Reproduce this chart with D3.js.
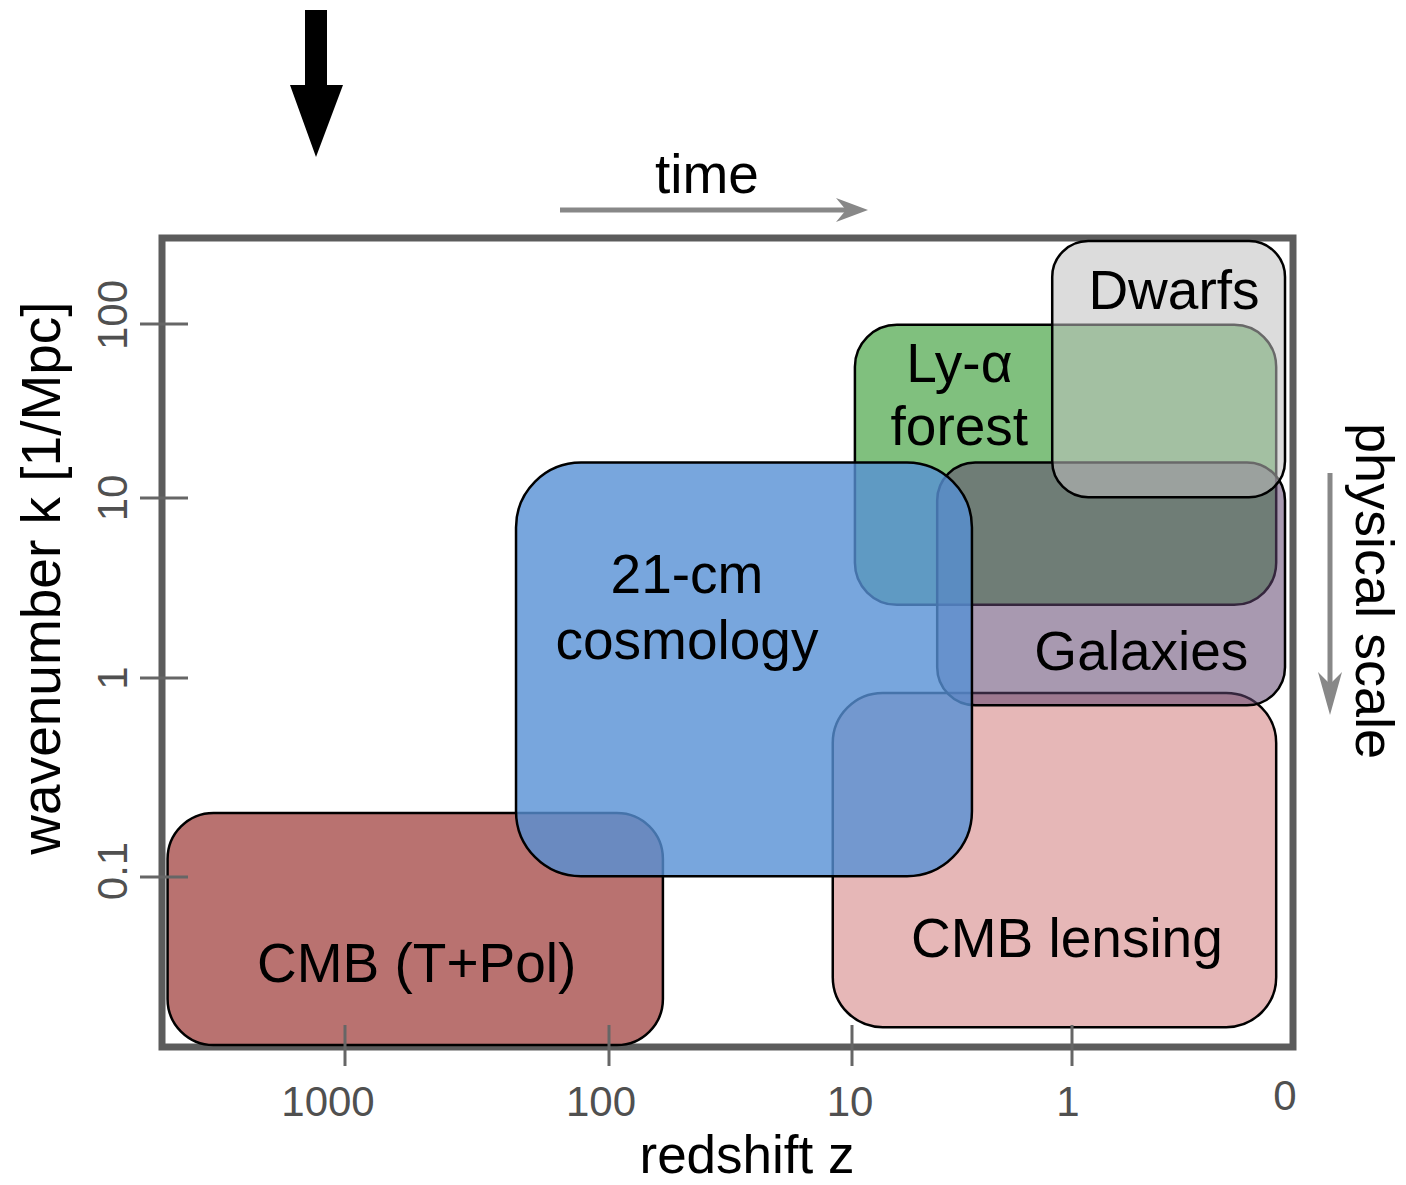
<!DOCTYPE html>
<html>
<head>
<meta charset="utf-8">
<script src="https://cdn.jsdelivr.net/npm/d3@7"></script>
<style>
  html, body { margin: 0; padding: 0; background: #ffffff; }
  svg { display: block; font-family: "Liberation Sans", Arial, sans-serif; }
</style>
</head>
<body>
<svg id="chart" width="1406" height="1185"></svg>
<script>
// Redshift axis ticks (log spacing, "0" closes the axis on the right)
const zTicks = [1000, 100, 10, 1, 0];
const zTickLabels = ["1000", "100", "10", "1", "0"];
// Wavenumber axis ticks, k in 1/Mpc
const kTicks = [100, 10, 1, 0.1];
const kTickLabels = ["100", "10", "1", "0.1"];

// Probes, in drawing order (later ones sit on top)
const probes = ["CMB (T+Pol)", "CMB lensing", "Ly-α forest", "Galaxies", "Dwarfs", "21-cm cosmology"];
const probeLines = [["CMB (T+Pol)"], ["CMB lensing"], ["Ly-α", "forest"], ["Galaxies"], ["Dwarfs"], ["21-cm", "cosmology"]];
// Redshift coverage: highest z (left edge) and lowest z (right edge)
const zHigh = [4700, 12, 9.7, 4.1, 1.23, 225];
const zLow  = [60, 0.11, 0.11, 0, 0, 2.85];
// Wavenumber coverage: largest k (top edge) and smallest k (bottom edge)
const kHigh = [0.21, 0.84, 99, 16, 300, 16];
const kLow  = [0.0143, 0.0176, 2.55, 0.73, 10.1, 0.101];

// Styling per probe
const fills       = ["#b97270", "#e6b7b7", "#80c07e", "#60456f", "#bfbfbf", "#5690d4"];
const fillOpacity = [1, 1, 1, 0.55, 0.55, 0.8];
const cornerR     = [46, 50, 42, 38, 36, 65];
// Label anchor as a fraction of the box (x = centre, y = first baseline) and line step
const labelFx   = [0.503, 0.528, 0.248, 0.587, 0.523, 0.375];
const labelFy   = [0.727, 0.79, 0.204, 0.856, 0.267, 0.316];
const lineStep  = [0, 0, 63, 0, 0, 66];
// Small nudges for the tick labels
const xLabelDx  = [-17, -8, -2, -4, 0];
const yLabelDy  = [-9, 0, 0, -6];

const svg = d3.select("#chart");

// Log-spaced redshift axis; the "0" end sits one decade past z = 1
const zPos = z => (z <= 0 ? -1 : Math.log10(z));
const x = d3.scaleLinear().domain([3, 2, 1, 0, -1]).range([345, 609, 852, 1072, 1285]);
const y = d3.scaleLinear().domain([2, 1, 0, -1]).range([324, 498, 678, 877]);
const X = z => x(zPos(z));
const Y = k => y(Math.log10(k));

const frame = { x0: 162, y0: 238, x1: 1293, y1: 1047 };

// Plot frame
svg.append("rect")
  .attr("x", frame.x0).attr("y", frame.y0)
  .attr("width", frame.x1 - frame.x0).attr("height", frame.y1 - frame.y0)
  .attr("fill", "none").attr("stroke", "#5c5c5c").attr("stroke-width", 7);

// Probe regions
const boxes = probes.map((name, i) => ({
  name, i,
  x0: X(zHigh[i]), x1: X(zLow[i]),
  y0: Y(kHigh[i]), y1: Y(kLow[i])
}));

svg.append("g").selectAll("rect").data(boxes).join("rect")
  .attr("x", d => d.x0).attr("y", d => d.y0)
  .attr("width", d => d.x1 - d.x0).attr("height", d => d.y1 - d.y0)
  .attr("rx", d => cornerR[d.i]).attr("ry", d => cornerR[d.i])
  .attr("fill", d => fills[d.i]).attr("fill-opacity", d => fillOpacity[d.i])
  .attr("stroke", "#000").attr("stroke-width", 2.5);

// Probe names
const lbl = svg.append("g").attr("font-size", 55).attr("fill", "#000").attr("text-anchor", "middle");
boxes.forEach(d => {
  const cx = d.x0 + labelFx[d.i] * (d.x1 - d.x0);
  const by = d.y0 + labelFy[d.i] * (d.y1 - d.y0);
  probeLines[d.i].forEach((t, j) => {
    lbl.append("text").attr("x", cx).attr("y", by + j * lineStep[d.i]).text(t);
  });
});

// Redshift ticks (crossing the frame) and labels
const xt = svg.append("g");
xt.selectAll("line").data(zTicks.filter(z => z > 0)).join("line")
  .attr("x1", d => X(d)).attr("x2", d => X(d))
  .attr("y1", 1025).attr("y2", 1066)
  .attr("stroke", "#666").attr("stroke-width", 3);
xt.selectAll("text").data(zTicks).join("text")
  .attr("x", (d, i) => X(d) + xLabelDx[i])
  .attr("y", d => (d === 0 ? 1110 : 1116))
  .attr("text-anchor", "middle").attr("font-size", 42).attr("fill", "#505050")
  .text((d, i) => zTickLabels[i]);

// Wavenumber ticks and rotated labels
const yt = svg.append("g");
yt.selectAll("line").data(kTicks).join("line")
  .attr("x1", 140).attr("x2", 188)
  .attr("y1", d => Y(d)).attr("y2", d => Y(d))
  .attr("stroke", "#666").attr("stroke-width", 3);
yt.selectAll("text").data(kTicks).join("text")
  .attr("transform", (d, i) => `translate(127,${Y(d) + yLabelDy[i]}) rotate(-90)`)
  .attr("text-anchor", "middle").attr("font-size", 42).attr("fill", "#505050")
  .text((d, i) => kTickLabels[i]);

// Axis titles
svg.append("text").attr("x", 747).attr("y", 1173)
  .attr("text-anchor", "middle").attr("font-size", 53).attr("fill", "#000")
  .text("redshift z");
svg.append("text").attr("transform", "translate(60,578) rotate(-90)")
  .attr("text-anchor", "middle").attr("font-size", 55).attr("fill", "#000")
  .text("wavenumber k [1/Mpc]");

// "time" direction arrow
svg.append("text").attr("x", 707).attr("y", 193)
  .attr("text-anchor", "middle").attr("font-size", 55).attr("fill", "#000")
  .text("time");
svg.append("line").attr("x1", 560).attr("x2", 850).attr("y1", 210).attr("y2", 210)
  .attr("stroke", "#888").attr("stroke-width", 5);
svg.append("path").attr("d", "M836,198 L868,210 L836,222 L846,210 Z").attr("fill", "#888");

// "physical scale" direction arrow
svg.append("text").attr("transform", "translate(1356,591) rotate(90)")
  .attr("text-anchor", "middle").attr("font-size", 54).attr("fill", "#000")
  .text("physical scale");
svg.append("line").attr("x1", 1330).attr("x2", 1330).attr("y1", 473).attr("y2", 700)
  .attr("stroke", "#888").attr("stroke-width", 5);
svg.append("path").attr("d", "M1318,672 L1330,715 L1342,672 L1330,684 Z").attr("fill", "#888");

// Black marker arrow at the top
svg.append("path")
  .attr("d", "M305,10 L327,10 L327,85 L343,85 L316,157 L290,85 L305,85 Z")
  .attr("fill", "#000");
</script>
</body>
</html>
